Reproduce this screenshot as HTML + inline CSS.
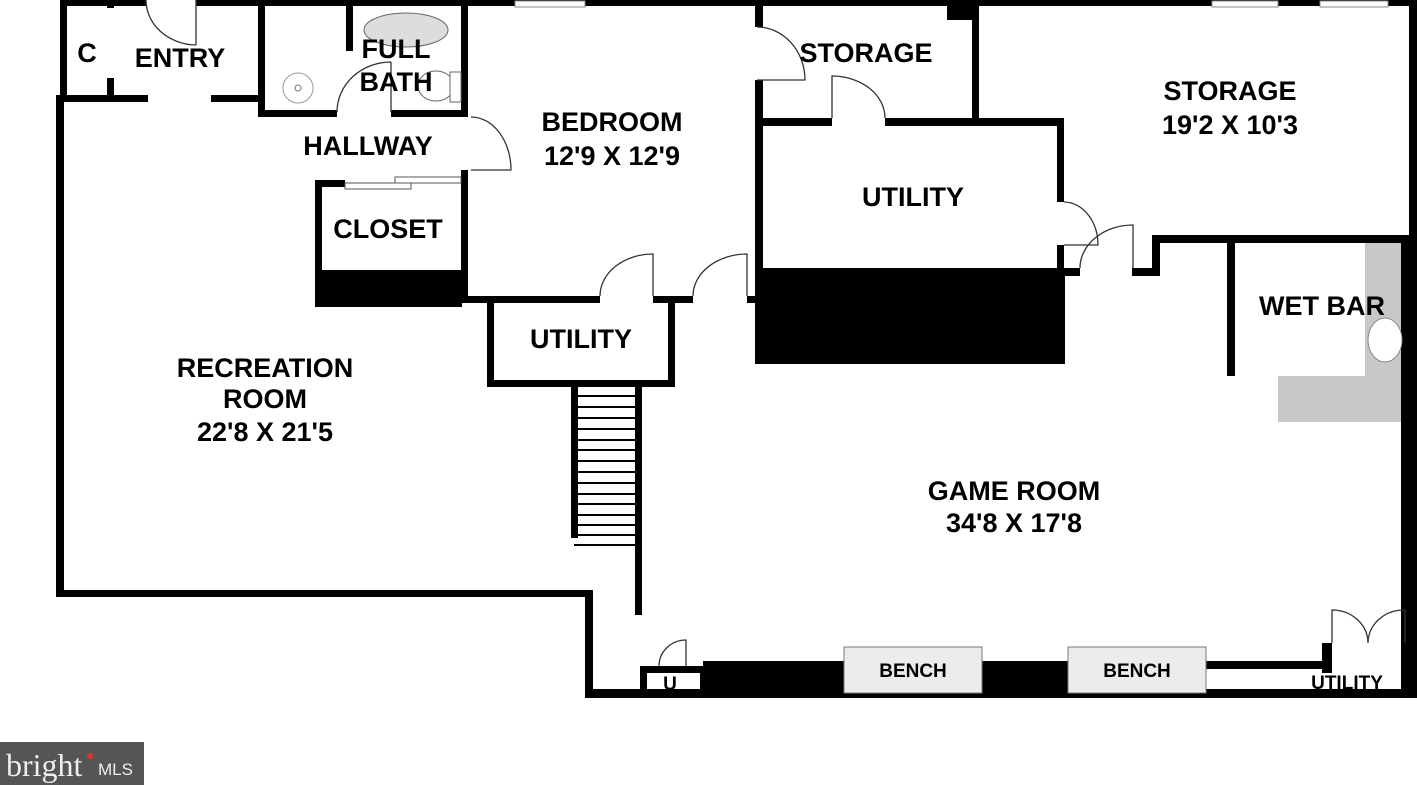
<!DOCTYPE html>
<html><head><meta charset="utf-8"><style>
html,body{margin:0;padding:0;background:#fff;}
svg{display:block;}
text{font-family:"Liberation Sans",Arial,sans-serif;font-weight:bold;fill:#000;}
</style></head><body>
<svg width="1417" height="785" viewBox="0 0 1417 785" xmlns="http://www.w3.org/2000/svg">
<rect width="1417" height="785" fill="#fff"/>
<g fill="#000">
<rect x="60" y="0" width="86" height="6"/>
<rect x="196" y="0" width="1221" height="6"/>
<rect x="60" y="0" width="7" height="100"/>
<rect x="107" y="0" width="7" height="8"/>
<rect x="107" y="78" width="7" height="20"/>
<rect x="56" y="95" width="92" height="7"/>
<rect x="211" y="95" width="52" height="7"/>
<rect x="56" y="95" width="8" height="502"/>
<rect x="56" y="590" width="537" height="7"/>
<rect x="585" y="590" width="8" height="108"/>
<rect x="258" y="0" width="7" height="117"/>
<rect x="258" y="110" width="79" height="7"/>
<rect x="391" y="110" width="77" height="7"/>
<rect x="461" y="0" width="7" height="117"/>
<rect x="346" y="0" width="7" height="51"/>
<rect x="315" y="180" width="7" height="127"/>
<rect x="315" y="180" width="30" height="7"/>
<rect x="461" y="170" width="7" height="133"/>
<rect x="315" y="270" width="147" height="37"/>
<rect x="462" y="296" width="138" height="7"/>
<rect x="653" y="296" width="40" height="7"/>
<rect x="747" y="296" width="13" height="7"/>
<rect x="487" y="296" width="7" height="91"/>
<rect x="668" y="296" width="7" height="91"/>
<rect x="487" y="380" width="188" height="7"/>
<rect x="571" y="387" width="7" height="151"/>
<rect x="635" y="387" width="7" height="228"/>
<rect x="755" y="0" width="8" height="27"/>
<rect x="755" y="80" width="8" height="284"/>
<rect x="947" y="0" width="32" height="20"/>
<rect x="972" y="0" width="7" height="122"/>
<rect x="755" y="118" width="77" height="8"/>
<rect x="885" y="118" width="179" height="8"/>
<rect x="1057" y="118" width="7" height="84"/>
<rect x="1057" y="245" width="7" height="31"/>
<rect x="755" y="268" width="310" height="96"/>
<rect x="1057" y="268" width="23" height="8"/>
<rect x="1132" y="268" width="28" height="8"/>
<rect x="1152" y="235" width="265" height="8"/>
<rect x="1152" y="235" width="8" height="41"/>
<rect x="1227" y="243" width="8" height="133"/>
<rect x="1409" y="0" width="8" height="240"/>
<rect x="1401" y="235" width="16" height="463"/>
<rect x="585" y="689" width="832" height="9"/>
<rect x="640" y="666" width="63" height="24"/>
<rect x="703" y="661" width="619" height="29"/>
<rect x="1322" y="643" width="10" height="30"/>
<rect x="1405" y="643" width="12" height="7"/>
</g>
<rect x="647" y="673" width="53" height="16" fill="#fff"/>
<rect x="1206" y="669" width="116" height="20" fill="#fff"/>
<rect x="1332" y="650" width="69" height="39" fill="#fff"/>
<rect x="844" y="647" width="138" height="46" fill="#ececec" stroke="#777" stroke-width="1"/>
<rect x="1068" y="647" width="138" height="46" fill="#ececec" stroke="#777" stroke-width="1"/>
<rect x="1365" y="243" width="36" height="179" fill="#c8c8c8"/>
<rect x="1278" y="376" width="123" height="46" fill="#c8c8c8"/>
<ellipse cx="1385" cy="340" rx="17" ry="22" fill="#fff" stroke="#888"/>
<g fill="#fff" stroke="#888" stroke-width="1">
<rect x="515" y="1" width="70" height="6"/>
<rect x="1212" y="1" width="66" height="6"/>
<rect x="1320" y="1" width="68" height="6"/>
</g>
<ellipse cx="406" cy="30" rx="42" ry="17" fill="#ddd" stroke="#666"/>
<circle cx="298" cy="88" r="15" fill="#fff" stroke="#999"/>
<circle cx="298" cy="88" r="3" fill="none" stroke="#777"/>
<ellipse cx="436" cy="86" rx="18" ry="15" fill="#fff" stroke="#666"/>
<rect x="450" y="72" width="11" height="30" fill="#fff" stroke="#666"/>
<g fill="none" stroke="#333" stroke-width="1.3">
<path d="M146,0 A51,45 0 0 0 196,45 M196,0 V45"/>
<path d="M337,112 A54,50 0 0 1 391,62 M391,62 V112"/>
<path d="M471,117 A40,53 0 0 1 511,170 H471"/>
<path d="M600,296 A53,42 0 0 1 653,254 V296"/>
<path d="M693,296 A54,42 0 0 1 747,254 V296"/>
<path d="M757,27 A48,53 0 0 1 805,80 H757"/>
<path d="M832,118 V76 A53,42 0 0 1 885,118"/>
<path d="M1064,202 A34,43 0 0 1 1098,245 H1064"/>
<path d="M1080,268 A53,43 0 0 1 1133,225 V268"/>
<path d="M659,666 A27,26 0 0 1 686,640 V666"/>
<path d="M1332,643 V610 A36,33 0 0 1 1368,643 M1405,643 V610 A36,33 0 0 0 1368,643"/>
</g>
<g fill="#fff" stroke="#555" stroke-width="1">
<rect x="345" y="183" width="66" height="6"/>
<rect x="395" y="177" width="66" height="6"/>
</g>
<g stroke="#000" stroke-width="2">
<line x1="578" y1="396" x2="635" y2="396"/><line x1="578" y1="407" x2="635" y2="407"/>
<line x1="578" y1="418" x2="635" y2="418"/><line x1="578" y1="429" x2="635" y2="429"/>
<line x1="578" y1="440" x2="635" y2="440"/><line x1="578" y1="450" x2="635" y2="450"/>
<line x1="578" y1="461" x2="635" y2="461"/><line x1="578" y1="472" x2="635" y2="472"/>
<line x1="578" y1="483" x2="635" y2="483"/><line x1="578" y1="494" x2="635" y2="494"/>
<line x1="578" y1="504" x2="635" y2="504"/><line x1="578" y1="515" x2="635" y2="515"/>
<line x1="578" y1="525" x2="635" y2="525"/><line x1="578" y1="535" x2="635" y2="535"/>
<line x1="574" y1="545" x2="635" y2="545"/>
</g>
<g font-size="27" text-anchor="middle">
<text x="87" y="62">C</text>
<text x="180" y="67">ENTRY</text>
<text x="396" y="58">FULL</text>
<text x="396" y="91">BATH</text>
<text x="368" y="155">HALLWAY</text>
<text x="388" y="238">CLOSET</text>
<text x="612" y="131">BEDROOM</text>
<text x="612" y="165">12'9 X 12'9</text>
<text x="866" y="62">STORAGE</text>
<text x="1230" y="100">STORAGE</text>
<text x="1230" y="134">19'2 X 10'3</text>
<text x="913" y="206">UTILITY</text>
<text x="1322" y="315">WET BAR</text>
<text x="581" y="348">UTILITY</text>
<text x="265" y="377">RECREATION</text>
<text x="265" y="408">ROOM</text>
<text x="265" y="441">22'8 X 21'5</text>
<text x="1014" y="500">GAME ROOM</text>
<text x="1014" y="532">34'8 X 17'8</text>
</g>
<g font-size="19" text-anchor="middle">
<text x="913" y="677">BENCH</text>
<text x="1137" y="677">BENCH</text>
<text x="1347" y="689">UTILITY</text>
<text x="670" y="690">U</text>
</g>
<rect x="0" y="742" width="144" height="43" fill="#555"/>
<text x="6" y="776" font-size="32" style="fill:#eee;font-weight:normal;font-family:'Liberation Serif',serif">bright</text>
<circle cx="90" cy="756" r="3" fill="#d33"/>
<text x="98" y="775" font-size="17" style="fill:#eee;font-weight:normal">MLS</text>
</svg>
</body></html>
